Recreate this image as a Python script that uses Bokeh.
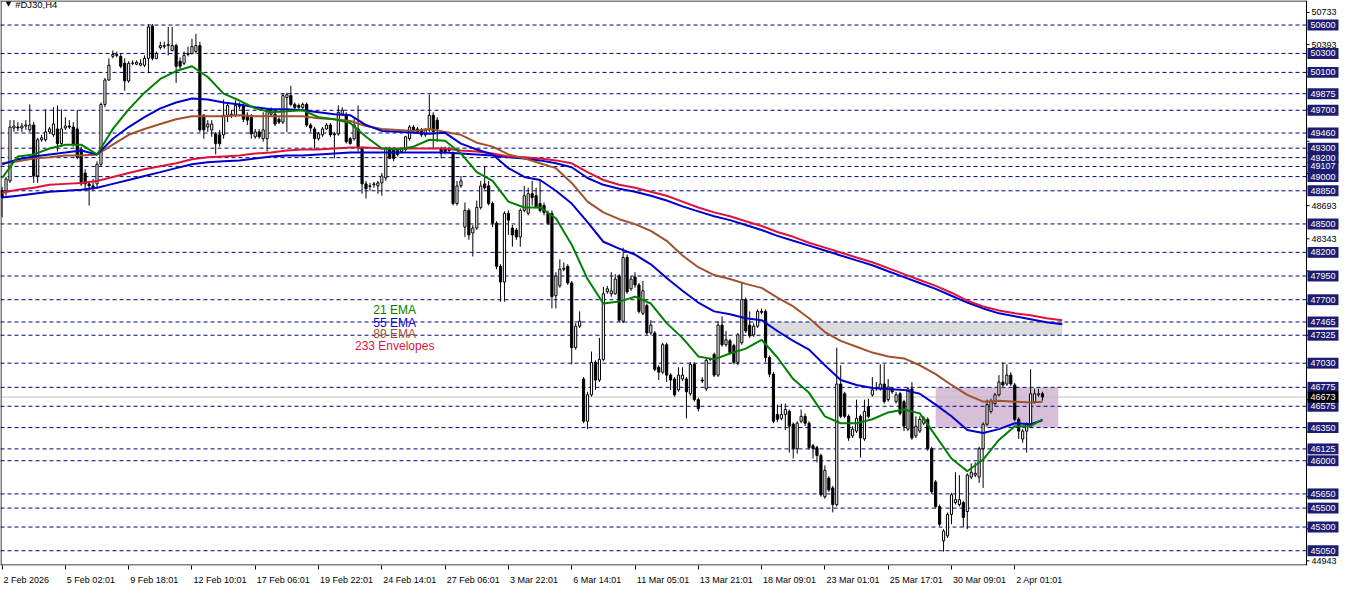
from bokeh.plotting import figure
from bokeh.models import Range1d, Label, FixedTicker, ColumnDataSource
from bokeh.core.properties import value
from bokeh.embed import file_html
from bokeh.resources import INLINE

# ---------------- data (H4 candles, #DJ30) ----------------
opens = [
    48850, 48850, 48954, 49513, 49523, 49513, 49534, 49493, 49544, 49006,
    49389, 49389, 49472, 49441, 49503, 49348, 49513, 49534, 49523, 49503,
    49286, 49037, 48923, 48902, 48923, 49130, 49762, 50020, 50269, 50279,
    50269, 50196, 50010, 50196, 50186, 50176, 50176, 50248, 50590, 50248,
    50362, 50372, 50383, 50331, 50383, 50217, 50196, 50289, 50300, 50321,
    50383, 49648, 49523, 49493, 49451, 49441, 49441, 49648, 49648, 49648,
    49741, 49751, 49648, 49627, 49420, 49472, 49400, 49400, 49659, 49659,
    49606, 49575, 49834, 49855, 49762, 49751, 49731, 49762, 49544, 49503,
    49400, 49441, 49503, 49544, 49451, 49451, 49659, 49659, 49400, 49400,
    49503, 49296, 48923, 48902, 48913, 48902, 48933, 48985, 49296, 49286,
    49275, 49265, 49286, 49400, 49523, 49503, 49493, 49441, 49493, 49648,
    49596, 49296, 49296, 49286, 49244, 48715, 48902, 48467, 48643, 48405,
    48457, 48674, 48923, 48902, 48715, 48508, 48053, 47887, 48612, 48457,
    48436, 48363, 48643, 48612, 48819, 48798, 48715, 48695, 48612, 48612,
    47742, 47846, 48022, 48053, 47877, 47194, 47421, 46863, 46417, 46696,
    47039, 46852, 47070, 47784, 47763, 47763, 47950, 47473, 48146, 47815,
    47940, 47856, 47556, 47639, 47349, 47349, 46987, 46935, 47225, 46904,
    46863, 46748, 46863, 46863, 46707, 47018, 46645, 46852, 46759, 47070,
    47122, 46904, 47432, 47225, 47266, 47215, 47039, 47246, 47701, 47432,
    47329, 47421, 47577, 47577, 47090, 46914, 46489, 46448, 46489, 46520,
    46386, 46127, 46417, 46469, 46396, 46158, 46138, 46055, 45620, 45816,
    45713, 45537, 46810, 46707, 46469, 46262, 46313, 46469, 46231, 46572,
    46696, 46759, 46759, 46810, 46645, 46759, 46624, 46707, 46624, 46334,
    46759, 46262, 46313, 46396, 46437, 46127, 45775, 45516, 45154, 45206,
    45433, 45558, 45537, 45558, 45464, 45827, 45848, 45827, 46127, 46386,
    46520, 46603, 46696, 46831, 46810, 46904, 46800, 46437, 46230, 46313,
    46365, 46624, 46696, 46707,
]
highs = [
    48891, 48996, 49596, 49596, 49575, 49565, 49596, 49762, 49575, 49410,
    49441, 49710, 49523, 49731, 49751, 49710, 49627, 49596, 49575, 49700,
    49316, 49078, 48954, 48975, 49161, 49782, 50041, 50248, 50331, 50321,
    50300, 50248, 50217, 50227, 50227, 50238, 50279, 50610, 50610, 50321,
    50424, 50424, 50579, 50579, 50403, 50258, 50321, 50372, 50455, 50507,
    50424, 49659, 49596, 49596, 49472, 49493, 49814, 49782, 49700, 49803,
    49782, 49782, 49679, 49659, 49503, 49503, 49679, 49720, 49731, 49700,
    49627, 49876, 49886, 49958, 49782, 49772, 49782, 49782, 49565, 49523,
    49472, 49523, 49565, 49565, 49472, 49751, 49731, 49679, 49420, 49606,
    49751, 49316, 48954, 48933, 48944, 48954, 49037, 49316, 49316, 49306,
    49296, 49306, 49431, 49544, 49544, 49523, 49513, 49513, 49865, 49679,
    49627, 49316, 49316, 49316, 49265, 48954, 49006, 48726, 48664, 48488,
    48747, 48954, 49109, 48954, 48736, 48529, 48074, 48633, 48643, 48488,
    48457, 48664, 48902, 48882, 48954, 48882, 48954, 48726, 48643, 48643,
    47991, 48125, 48094, 48074, 47898, 47452, 47577, 46883, 46728, 47153,
    47060, 47297, 47836, 47846, 47991, 47970, 47970, 48249, 48177, 47950,
    47991, 47877, 47898, 47660, 47484, 47370, 47008, 47246, 47246, 46924,
    46883, 46987, 46987, 46883, 47039, 47039, 46665, 46883, 47090, 47090,
    47142, 47473, 47525, 47370, 47287, 47235, 47349, 47888, 47722, 47577,
    47452, 47598, 47608, 47598, 47111, 46935, 46593, 46603, 46603, 46541,
    46406, 46417, 46541, 46500, 46417, 46179, 46158, 46075, 45951, 45837,
    45734, 47194, 47008, 46728, 46489, 46365, 46645, 46489, 46645, 46655,
    46883, 46831, 47018, 47018, 46863, 46779, 46728, 46728, 46645, 46779,
    46831, 46469, 46469, 46469, 46458, 46148, 45796, 45537, 45278, 45454,
    45661, 45879, 45848, 45578, 45868, 45972, 45982, 46148, 46406, 46645,
    46655, 46717, 46904, 47039, 47018, 46935, 46821, 46458, 46334, 46406,
    46966, 46759, 46759, 46728,
]
lows = [
    48570, 48798, 48933, 49472, 49482, 49472, 49493, 49472, 48933, 48933,
    49368, 49368, 49451, 49420, 49265, 49316, 49493, 49503, 49316, 49182,
    48902, 48850, 48695, 48850, 48871, 49109, 49731, 50010, 50248, 50258,
    50144, 49906, 49989, 50176, 50176, 50165, 50155, 50093, 50227, 50238,
    50341, 50352, 50279, 50321, 49989, 50134, 50176, 50269, 50289, 50300,
    49472, 49400, 49472, 49420, 49234, 49316, 49400, 49575, 49617, 49627,
    49710, 49575, 49544, 49400, 49400, 49400, 49368, 49265, 49638, 49534,
    49555, 49555, 49472, 49741, 49710, 49710, 49710, 49523, 49472, 49296,
    49379, 49420, 49493, 49420, 49192, 49431, 49638, 49348, 49337, 49379,
    49265, 48819, 48767, 48850, 48882, 48819, 48798, 48954, 49182, 49161,
    49213, 49244, 49265, 49379, 49472, 49451, 49420, 49420, 49472, 49296,
    49368, 49192, 49234, 49254, 48695, 48695, 48882, 48363, 48332, 48156,
    48436, 48653, 48861, 48695, 48467, 48022, 47680, 47680, 48384, 48260,
    48332, 48260, 48622, 48591, 48695, 48664, 48622, 48591, 48488, 47608,
    47608, 47826, 48001, 47856, 47018, 47173, 47401, 46396, 46334, 46676,
    46748, 46831, 47050, 47763, 47732, 47753, 47463, 47452, 47763, 47794,
    47826, 47556, 47536, 47329, 47329, 46945, 46852, 46914, 46831, 46748,
    46676, 46728, 46842, 46448, 46686, 46624, 46520, 46821, 46738, 47050,
    46883, 46883, 47204, 47204, 47122, 47018, 47008, 47225, 47349, 47297,
    47308, 47401, 47546, 47039, 46883, 46396, 46406, 46427, 46324, 46086,
    46024, 46075, 46396, 46365, 46117, 46024, 45982, 45620, 45599, 45672,
    45454, 45516, 46448, 46448, 46210, 46241, 46293, 46034, 46210, 46448,
    46676, 46738, 46738, 46603, 46624, 46707, 46603, 46479, 46313, 46313,
    46220, 46241, 46293, 46375, 46106, 45651, 45496, 45309, 45040, 45185,
    45330, 45537, 45516, 45299, 45278, 45806, 45827, 45765, 45713, 46365,
    46500, 46582, 46676, 46779, 46790, 46790, 46417, 46230, 46190, 46086,
    46344, 46603, 46676, 46634,
]
closes = [
    48778, 48975, 49523, 49534, 49513, 49534, 49544, 49544, 49006, 49389,
    49410, 49472, 49503, 49555, 49348, 49503, 49534, 49523, 49337, 49203,
    48923, 48923, 48902, 48882, 49130, 49762, 50020, 50176, 50289, 50289,
    50165, 50010, 50196, 50200, 50207, 50196, 50248, 50579, 50248, 50300,
    50383, 50383, 50393, 50383, 50165, 50165, 50279, 50300, 50372, 50383,
    49493, 49493, 49555, 49555, 49348, 49348, 49648, 49751, 49659, 49751,
    49751, 49606, 49596, 49451, 49472, 49420, 49493, 49700, 49700, 49555,
    49575, 49855, 49865, 49762, 49731, 49731, 49762, 49544, 49513, 49400,
    49451, 49503, 49544, 49441, 49441, 49679, 49700, 49368, 49348, 49544,
    49316, 48923, 48871, 48895, 48923, 48933, 49006, 49296, 49192, 49192,
    49234, 49286, 49420, 49523, 49493, 49472, 49441, 49493, 49648, 49472,
    49503, 49244, 49265, 49275, 48715, 48902, 48954, 48643, 48384, 48457,
    48674, 48902, 48882, 48715, 48508, 48053, 47887, 48612, 48540, 48384,
    48363, 48643, 48798, 48819, 48778, 48674, 48643, 48622, 48508, 47732,
    47950, 48022, 48032, 47877, 47194, 47421, 47473, 46417, 46696, 47039,
    46852, 47070, 47763, 47815, 47794, 47918, 47484, 48146, 47784, 47918,
    47856, 47577, 47794, 47349, 47432, 46966, 46935, 47225, 46904, 46852,
    46696, 46904, 46904, 46728, 47018, 46645, 46551, 46842, 47060, 47080,
    46904, 47432, 47225, 47277, 47142, 47039, 47329, 47701, 47370, 47318,
    47421, 47577, 47567, 47090, 46914, 46417, 46437, 46489, 46541, 46365,
    46127, 46396, 46469, 46396, 46138, 46127, 46055, 45641, 45899, 45692,
    45537, 46810, 46469, 46469, 46241, 46334, 46448, 46241, 46520, 46469,
    46748, 46769, 46810, 46624, 46779, 46728, 46696, 46500, 46365, 46759,
    46241, 46365, 46437, 46448, 46127, 45672, 45516, 45330, 45257, 45433,
    45641, 45589, 45589, 45402, 45848, 45879, 45868, 46127, 46386, 46593,
    46624, 46696, 46831, 46800, 46904, 46810, 46437, 46313, 46313, 46386,
    46707, 46707, 46707, 46673,
]

# indicator readings (bar index -> value)
ema_bars = list(range(0, 261, 4)) + [263]
ema21 = [48985, 49213, 49234, 49296, 49337, 49337, 49234, 49503, 49710, 49886,
         50031, 50114, 50165, 50051, 49876, 49803, 49720, 49679, 49689, 49700,
         49627, 49606, 49565, 49420, 49296, 49286, 49316, 49389, 49379, 49244,
         49047, 48954, 48736, 48674, 48674, 48560, 48281, 47918, 47660, 47680,
         47732, 47660, 47453, 47297, 47101, 47070, 47132, 47184, 47277, 47090,
         46862, 46717, 46469, 46396, 46396, 46438, 46510, 46541, 46500, 46262,
         46024, 45889, 46013, 46220, 46365, 46365, 46438]
ema55 = [49130, 49182, 49213, 49234, 49254, 49275, 49234, 49400, 49523, 49627,
         49720, 49782, 49824, 49814, 49782, 49761, 49731, 49710, 49710, 49700,
         49679, 49658, 49648, 49544, 49482, 49472, 49462, 49451, 49462, 49348,
         49286, 49234, 49089, 48996, 48964, 48850, 48715, 48519, 48312, 48240,
         48177, 48074, 47929, 47794, 47670, 47577, 47546, 47504, 47484, 47370,
         47266, 47173, 47008, 46852, 46800, 46769, 46758, 46748, 46707, 46593,
         46469, 46324, 46293, 46334, 46396, 46386, 46427]
ema89 = [49140, 49161, 49192, 49203, 49223, 49223, 49234, 49337, 49441, 49503,
         49555, 49606, 49638, 49638, 49638, 49648, 49638, 49638, 49638, 49638,
         49617, 49606, 49586, 49534, 49503, 49493, 49482, 49503, 49472, 49441,
         49358, 49316, 49234, 49192, 49140, 49089, 48933, 48736, 48622, 48550,
         48498, 48426, 48322, 48167, 48043, 47960, 47918, 47867, 47825, 47722,
         47629, 47504, 47359, 47266, 47204, 47142, 47101, 47080, 47008, 46914,
         46800, 46696, 46624, 46634, 46624, 46614, 46624]
env_bars = list(range(0, 269, 4))
env_upper = [48829, 48861, 48882, 48913, 48923, 48933, 48954, 48996, 49037, 49078,
             49109, 49140, 49182, 49203, 49213, 49223, 49244, 49254, 49275, 49286,
             49286, 49296, 49306, 49306, 49296, 49296, 49296, 49296, 49296, 49275,
             49265, 49244, 49213, 49203, 49192, 49171, 49140, 49047, 48964, 48913,
             48882, 48840, 48798, 48736, 48674, 48622, 48581, 48529, 48478, 48415,
             48364, 48302, 48250, 48198, 48146, 48095, 48033, 47970, 47908, 47846,
             47774, 47691, 47629, 47587, 47556, 47535, 47504, 47484]
env_lower = [48778, 48798, 48819, 48840, 48850, 48861, 48882, 48923, 48964, 49006,
             49047, 49089, 49130, 49151, 49161, 49171, 49192, 49213, 49223, 49223,
             49234, 49244, 49254, 49254, 49254, 49254, 49254, 49254, 49254, 49244,
             49234, 49223, 49203, 49192, 49171, 49140, 49099, 48985, 48913, 48871,
             48840, 48798, 48747, 48685, 48633, 48581, 48540, 48488, 48436, 48374,
             48322, 48271, 48219, 48167, 48115, 48064, 48001, 47939, 47877, 47815,
             47742, 47670, 47608, 47556, 47525, 47494, 47463, 47442]

# horizontal levels drawn on the chart
levels = [50600, 50300, 50100, 49875, 49700, 49460, 49300, 49200, 49107, 49000,
          48850, 48500, 48200, 47950, 47700, 47465, 47325, 47030, 46775, 46575,
          46350, 46125, 46000, 45650, 45500, 45300, 45050]
last_price = 46673

# zones (bar index span, price span)
gray_zone = dict(left=193, right=268, bottom=47325, top=47465)
purple_zone = dict(left=236, right=267, bottom=46350, top=46775)

# axes
date_tick_bars = [0, 16, 32, 48, 64, 80, 96, 112, 128, 144, 160, 176, 192, 208, 224, 240, 256]
date_labels = ["2 Feb 2026", "5 Feb 02:01", "9 Feb 18:01", "12 Feb 10:01", "17 Feb 06:01",
               "19 Feb 22:01", "24 Feb 14:01", "27 Feb 06:01", "3 Mar 22:01", "6 Mar 14:01",
               "11 Mar 05:01", "13 Mar 21:01", "18 Mar 09:01", "23 Mar 01:01", "25 Mar 17:01",
               "30 Mar 09:01", "2 Apr 01:01"]
price_ticks = [50733, 50393, 50053, 49713, 49373, 49033, 48693, 48343, 48003, 47663,
               47323, 46983, 46643, 46303, 45963, 45623, 45283, 44943]
price_ticks_shown = [50733, 50393, 48693, 48343, 44943]

legend_items = [("21 EMA", "#008000"), ("55 EMA", "#0000cd"),
                ("89 EMA", "#a0522d"), ("233 Envelopes", "#dc143c")]
legend_prices = [47595, 47453, 47339, 47215]

# ---------------- geometry ----------------
FONT = "Liberation Sans"
FIG_W, FIG_H = 1346, 587
AXIS_H = 16            # room for the date scale under the chart
SCALE_W = 40           # room for the price scale right of the chart
FRAME_H = FIG_H - AXIS_H
bar_lo, bar_edge = -0.4, 329.75
y_lo, y_hi = 44894, 50859
px_per_bar = (FIG_W - SCALE_W) / (bar_edge - bar_lo)
bpx = 1.0 / px_per_bar                 # bars per screen pixel
ppx = (y_hi - y_lo) / FRAME_H          # price per screen pixel
x_hi = bar_lo + FIG_W * bpx

# approximate Liberation Sans advance widths (em) to left-align the date labels
CW = {d: 0.556 for d in "0123456789"}
CW.update({" ": 0.278, ":": 0.278, "F": 0.611, "e": 0.556, "b": 0.556, "M": 0.833,
           "a": 0.556, "r": 0.333, "A": 0.667, "p": 0.556})
AXIS_FS = 9.0


def text_w(t):
    return sum(CW.get(ch, 0.556) for ch in t) * AXIS_FS


p = figure(width=FIG_W, height=FIG_H, output_backend="svg", toolbar_location=None,
           x_range=Range1d(bar_lo, x_hi), y_range=Range1d(y_lo, y_hi),
           y_axis_location=None, min_border_left=0, min_border_top=0,
           min_border_right=0, min_border_bottom=AXIS_H)
p.grid.visible = False
p.outline_line_color = None
p.background_fill_color = "white"
p.border_fill_color = "white"

# zones
for z, col in ((gray_zone, "#dcdcdc"), (purple_zone, "#d8bfd8")):
    p.quad(left=[z["left"]], right=[z["right"]], bottom=[z["bottom"]], top=[z["top"]],
           fill_color=col, line_color=None)

# level lines (only across the chart area)
p.segment(x0=[bar_lo] * len(levels), x1=[bar_edge] * len(levels), y0=levels, y1=levels,
          line_color="#000080", line_dash="4 3", line_width=1)
p.segment(x0=[bar_lo], x1=[bar_edge], y0=[last_price], y1=[last_price],
          line_color="#c0c0c0", line_width=1)

# candles
idx = list(range(len(closes)))
src = ColumnDataSource(dict(
    x=idx, h=highs, l=lows,
    top=[max(o, c) for o, c in zip(opens, closes)],
    bottom=[min(o, c) for o, c in zip(opens, closes)],
    fill=["white" if c >= o else "black" for o, c in zip(opens, closes)],
))
p.segment(x0="x", y0="h", x1="x", y1="l", source=src, line_color="black", line_width=1)
p.vbar(x="x", width=0.55, top="top", bottom="bottom", source=src,
       fill_color="fill", line_color="black", line_width=1)

# indicators
p.line(env_bars, env_lower, line_color="#0000cd", line_width=2)
p.line(env_bars, env_upper, line_color="#dc143c", line_width=2)
p.line(ema_bars, ema89, line_color="#a0522d", line_width=2)
p.line(ema_bars, ema55, line_color="#0000cd", line_width=2)
p.line(ema_bars, ema21, line_color="#008000", line_width=2)

# chart border (left, top, bottom, right)
p.segment(x0=[bar_lo + 0.5 * bpx, bar_lo, bar_lo, bar_edge],
          x1=[bar_lo + 0.5 * bpx, bar_edge, bar_edge, bar_edge],
          y0=[y_lo, y_hi - 0.5 * ppx, y_lo + 0.5 * ppx, y_lo],
          y1=[y_hi, y_hi - 0.5 * ppx, y_lo + 0.5 * ppx, y_hi],
          line_color="black", line_width=1)

# legend texts
for (txt, col), yv in zip(legend_items, legend_prices):
    p.add_layout(Label(x=99.25, y=yv, text=txt, text_color=col, text_font=FONT,
                       text_font_size="12px", text_align="center", text_baseline="middle"))

# title
p.add_layout(Label(x=1.6, y=50818, text="\u25BC", text_font="DejaVu Sans",
                   text_font_size="7px", text_align="center", text_baseline="middle",
                   text_color="black"))
p.add_layout(Label(x=3.3, y=50818, text="#DJ30,H4", text_font=FONT,
                   text_font_size="9.5px", text_align="left", text_baseline="middle",
                   text_color="black"))

# ---- price scale (right) ----
p.segment(x0=[bar_edge] * len(price_ticks), x1=[bar_edge + 3 * bpx] * len(price_ticks),
          y0=price_ticks, y1=price_ticks, line_color="black", line_width=1)
p.text(x=[bar_edge + 5 * bpx] * len(price_ticks_shown), y=price_ticks_shown,
       text=[str(t) for t in price_ticks_shown], text_font=value(FONT),
       text_font_size=f"{AXIS_FS}px", text_align="left", text_baseline="middle",
       text_color="black")
tag_half = 5.5 * ppx
p.quad(left=[bar_edge + 1 * bpx] * len(levels), right=[bar_edge + 32 * bpx] * len(levels),
       bottom=[lv - tag_half for lv in levels], top=[lv + tag_half for lv in levels],
       fill_color="#1c1c72", line_color=None)
p.text(x=[bar_edge + 4 * bpx] * len(levels), y=levels, text=[str(lv) for lv in levels],
       text_font=value(FONT), text_font_size=f"{AXIS_FS}px", text_align="left",
       text_baseline="middle", text_color="white")
p.quad(left=[bar_edge + 1 * bpx], right=[bar_edge + 32 * bpx],
       bottom=[last_price - tag_half], top=[last_price + tag_half],
       fill_color="black", line_color=None)
p.text(x=[bar_edge + 4 * bpx], y=[last_price], text=[str(last_price)],
       text_font=value(FONT), text_font_size=f"{AXIS_FS}px", text_align="left",
       text_baseline="middle", text_color="white")

# ---- date scale (below): tick marks as minor ticks, left-aligned labels as majors ----
label_pos = [round(b + (text_w(t) / 2 + 1.5) * bpx, 3) for b, t in zip(date_tick_bars, date_labels)]
xa = p.xaxis[0]
xa.ticker = FixedTicker(ticks=label_pos, minor_ticks=date_tick_bars)
xa.major_label_overrides = {pos: t for pos, t in zip(label_pos, date_labels)}
xa.major_label_text_font = FONT
xa.major_label_text_font_size = f"{AXIS_FS}px"
xa.major_label_text_color = "black"
xa.major_label_standoff = 5
xa.major_tick_in = 0
xa.major_tick_out = 0
xa.minor_tick_in = 0
xa.minor_tick_out = 4
xa.minor_tick_line_color = "black"
xa.axis_line_color = None

open("out.html", "w").write(file_html(p, INLINE))
